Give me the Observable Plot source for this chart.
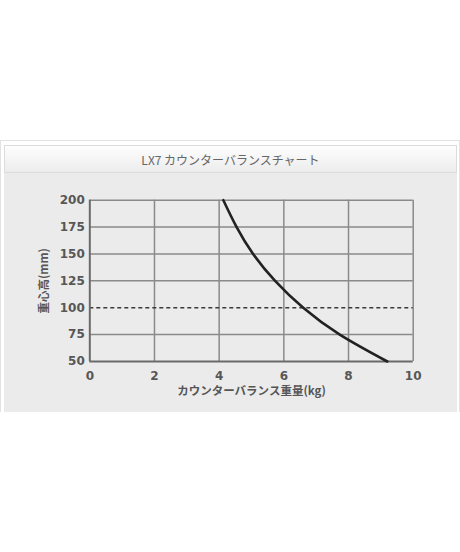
<!DOCTYPE html>
<html>
<head>
<meta charset="utf-8">
<script src="https://cdn.jsdelivr.net/npm/d3@7"></script>
<script src="https://cdn.jsdelivr.net/npm/@observablehq/plot@0.6"></script>
<style>
  html, body { margin: 0; padding: 0; background: #fff; width: 460px; height: 552px; overflow: hidden; }
  #panel { position: absolute; top: 140px; left: 0; width: 460px; height: 272px; box-sizing: border-box; border: 1px solid #e2e2e2; border-bottom: none; background: #fff; }
  #title { position: absolute; top: 145px; left: 4px; width: 453px; height: 28px; box-sizing: border-box;
    border: 1px solid #dcdcdc; background: linear-gradient(#fefefe, #ececec);
    text-align: center; line-height: 28px; font-family: "Noto Sans CJK JP", "DejaVu Sans", sans-serif; font-size: 12px; color: #666; }
  #area { position: absolute; top: 173px; left: 4px; width: 453px; height: 239px; background: #ebebeb; }
</style>
</head>
<body>
<div id="panel"></div>
<div id="title"></div>
<div id="area"></div>
<script>
const titleText = "LX7 カウンターバランスチャート";
const xLabel = "カウンターバランス重量(kg)";
const yLabel = "重心高(mm)";
const xTicks = [0, 2, 4, 6, 8, 10];
const yTicks = [50, 75, 100, 125, 150, 175, 200];
const refLevel = [100];
const weightKg = [4.13, 4.54, 5.05, 5.73, 6.60, 7.73, 9.20];
const heightMm = [200, 175, 150, 125, 100, 75, 50];

document.getElementById("title").textContent = titleText;

const curve = weightKg.map((w, i) => ({w, h: heightMm[i]}));
const gridY = yTicks.filter(v => !refLevel.includes(v) && v !== 50);
const gridX = xTicks.filter(v => v !== 0);

const tickFont = {fontFamily: "'DejaVu Sans', sans-serif", fontSize: 12, fontWeight: "bold", fill: "#575757"};

const chart = Plot.plot({
  width: 453,
  height: 239,
  marginLeft: 85.3,
  marginRight: 44.3,
  marginTop: 26.7,
  marginBottom: 51,
  style: {background: "transparent", overflow: "visible", color: "#575757"},
  x: {domain: [0, 10]},
  y: {domain: [50, 200]},
  marks: [
    Plot.ruleX(gridX, {stroke: "#8a8a8a", strokeWidth: 1.5}),
    Plot.ruleY(gridY, {stroke: "#8a8a8a", strokeWidth: 1.5}),
    Plot.ruleY(refLevel, {stroke: "#3a3a3a", strokeWidth: 1.6, strokeDasharray: "4,3"}),
    Plot.ruleX([0], {stroke: "#6a6a6a", strokeWidth: 2}),
    Plot.ruleY([50], {stroke: "#6a6a6a", strokeWidth: 2}),
    Plot.line(curve, {x: "w", y: "h", curve: "natural", stroke: "#222", strokeWidth: 2.6}),
    Plot.axisX(xTicks, {tickSize: 0, tickPadding: 10, ...tickFont,
      label: xLabel, labelAnchor: "center", labelArrow: "none", labelOffset: 33}),
    Plot.axisY(yTicks, {tickSize: 0, tickPadding: 5, ...tickFont,
      label: yLabel, labelAnchor: "center", labelArrow: "none", labelOffset: 50})
  ]
});

chart.querySelectorAll("g[aria-label='x-axis label'] text, g[aria-label='y-axis label'] text").forEach(t => {
  t.setAttribute("font-family", "'Noto Sans CJK JP', sans-serif");
  t.setAttribute("font-weight", "bold");
  t.setAttribute("font-size", "11.5");
  t.setAttribute("fill", "#555");
});
document.getElementById("area").appendChild(chart);
</script>
</body>
</html>
